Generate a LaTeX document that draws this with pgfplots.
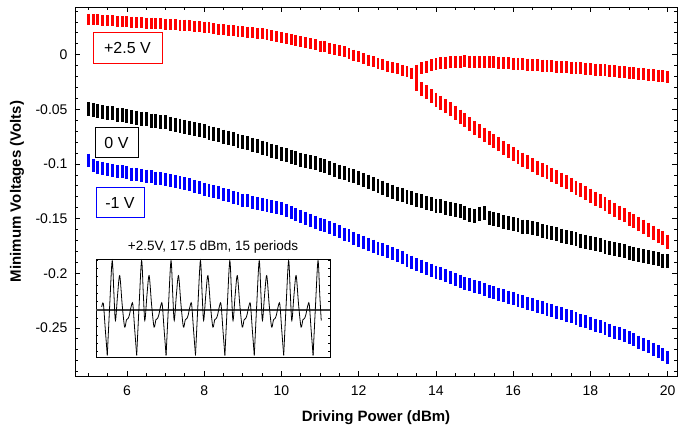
\documentclass[border=0pt]{standalone}
\usepackage{fontspec}
\setmainfont{Liberation Sans}
\usepackage{pgfplots}
\usepackage{pgfplotstable}
\pgfplotsset{compat=1.18}
\usetikzlibrary{calc}

% bar centres, one row every 0.125 dBm
\pgfplotstableread{
y
0.0325
0.0320
0.0318
0.0312
0.0310
0.0313
0.0305
0.0302
0.0300
0.0299
0.0294
0.0292
0.0290
0.0289
0.0284
0.0282
0.0280
0.0279
0.0275
0.0271
0.0270
0.0266
0.0260
0.0256
0.0250
0.0246
0.0240
0.0234
0.0230
0.0226
0.0220
0.0214
0.0210
0.0206
0.0200
0.0194
0.0190
0.0183
0.0175
0.0169
0.0160
0.0151
0.0140
0.0131
0.0120
0.0111
0.0100
0.0091
0.0080
0.0071
0.0060
0.0049
0.0040
0.0026
0.0010
-0.0004
-0.0020
-0.0034
-0.0050
-0.0066
-0.0080
-0.0091
-0.0105
-0.0119
-0.0130
-0.0141
-0.0155
-0.0168
}\redlow
\pgfplotstableread{
y
-0.0145
-0.0125
-0.0108
-0.0095
-0.0086
-0.0079
-0.0074
-0.0069
-0.0066
-0.0064
-0.0061
-0.0064
-0.0063
-0.0066
-0.0066
-0.0069
-0.0070
-0.0072
-0.0076
-0.0078
-0.0081
-0.0085
-0.0087
-0.0090
-0.0094
-0.0097
-0.0100
-0.0103
-0.0106
-0.0108
-0.0112
-0.0115
-0.0118
-0.0122
-0.0124
-0.0128
-0.0131
-0.0136
-0.0139
-0.0143
-0.0147
-0.0150
-0.0155
-0.0159
-0.0163
-0.0168
-0.0172
-0.0176
-0.0181
-0.0186
-0.0192
-0.0197
-0.0204
}\redup
\pgfplotstableread{
y
-0.0270
-0.0315
-0.0345
-0.0378
-0.0410
-0.0441
-0.0470
-0.0498
-0.0530
-0.0566
-0.0600
-0.0634
-0.0670
-0.0701
-0.0730
-0.0761
-0.0790
-0.0820
-0.0851
-0.0880
-0.0910
-0.0936
-0.0960
-0.0984
-0.1010
-0.1033
-0.1055
-0.1077
-0.1100
-0.1123
-0.1145
-0.1167
-0.1190
-0.1216
-0.1240
-0.1264
-0.1290
-0.1316
-0.1340
-0.1364
-0.1390
-0.1419
-0.1445
-0.1471
-0.1500
-0.1526
-0.1550
-0.1574
-0.1600
-0.1629
-0.1655
-0.1681
-0.1710
}\reddown
\pgfplotstableread{
y
-0.0500
-0.0505
-0.0515
-0.0525
-0.0530
-0.0535
-0.0548
-0.0552
-0.0560
-0.0572
-0.0575
-0.0585
-0.0590
-0.0602
-0.0605
-0.0615
-0.0620
-0.0632
-0.0640
-0.0648
-0.0660
-0.0668
-0.0682
-0.0688
-0.0700
-0.0712
-0.0722
-0.0738
-0.0750
-0.0758
-0.0775
-0.0785
-0.0800
-0.0808
-0.0825
-0.0835
-0.0850
-0.0862
-0.0878
-0.0892
-0.0910
-0.0918
-0.0935
-0.0945
-0.0960
-0.0968
-0.0985
-0.0995
-0.1010
-0.1022
-0.1038
-0.1055
-0.1070
-0.1082
-0.1098
-0.1112
-0.1130
-0.1145
-0.1162
-0.1185
-0.1200
-0.1215
-0.1235
-0.1252
-0.1270
-0.1282
-0.1302
-0.1315
-0.1330
-0.1342
-0.1355
-0.1368
-0.1380
-0.1388
-0.1402
-0.1408
-0.1420
-0.1432
-0.1445
-0.1465
-0.1472
-0.1455
-0.1452
-0.1490
-0.1505
-0.1515
-0.1530
-0.1540
-0.1550
-0.1558
-0.1572
-0.1580
-0.1590
-0.1598
-0.1612
-0.1620
-0.1630
-0.1642
-0.1655
-0.1668
-0.1680
-0.1688
-0.1702
-0.1710
-0.1720
-0.1732
-0.1745
-0.1758
-0.1770
-0.1778
-0.1790
-0.1800
-0.1810
-0.1822
-0.1832
-0.1842
-0.1850
-0.1862
-0.1872
-0.1885
-0.1890
}\zerov
\pgfplotstableread{
y
-0.0965
-0.1015
-0.1030
-0.1038
-0.1050
-0.1055
-0.1068
-0.1072
-0.1080
-0.1092
-0.1095
-0.1105
-0.1110
-0.1118
-0.1128
-0.1135
-0.1140
-0.1152
-0.1160
-0.1172
-0.1180
-0.1192
-0.1205
-0.1215
-0.1230
-0.1238
-0.1255
-0.1265
-0.1280
-0.1288
-0.1305
-0.1315
-0.1330
-0.1338
-0.1350
-0.1360
-0.1370
-0.1378
-0.1390
-0.1398
-0.1410
-0.1428
-0.1445
-0.1462
-0.1480
-0.1495
-0.1515
-0.1532
-0.1550
-0.1565
-0.1585
-0.1600
-0.1620
-0.1642
-0.1658
-0.1680
-0.1700
-0.1715
-0.1735
-0.1752
-0.1770
-0.1785
-0.1805
-0.1822
-0.1840
-0.1858
-0.1880
-0.1898
-0.1920
-0.1935
-0.1955
-0.1970
-0.1990
-0.2005
-0.2022
-0.2040
-0.2060
-0.2072
-0.2090
-0.2105
-0.2120
-0.2132
-0.2150
-0.2165
-0.2180
-0.2192
-0.2205
-0.2218
-0.2230
-0.2245
-0.2258
-0.2275
-0.2290
-0.2302
-0.2315
-0.2328
-0.2340
-0.2355
-0.2370
-0.2385
-0.2400
-0.2415
-0.2430
-0.2445
-0.2460
-0.2475
-0.2490
-0.2505
-0.2520
-0.2538
-0.2555
-0.2572
-0.2590
-0.2610
-0.2630
-0.2650
-0.2670
-0.2695
-0.2720
-0.2745
-0.2775
}\minusv
% one period of the inset trace (phase, signal)
\pgfplotstableread{
p v
0 -45.7
0.083 5
0.167 49.3
0.227 15
0.277 -10.7
0.35 15
0.423 34.3
0.507 5
0.59 -17.3
0.653 -10
0.71 -8.5
0.753 -5
0.81 3
0.867 6
0.933 -20
1 -45.7
}\period

\tikzset{bars/.style={only marks, mark=|, mark size=6pt,
  mark options={#1, line width=2.9pt}}}

\begin{document}
\begin{tikzpicture}
\begin{axis}[name=main,
    width=602pt, height=369pt, scale only axis,
    xmin=4.656, xmax=20.24, ymin=-0.294, ymax=0.0437,
    xtick={6,8,10,12,14,16,18,20},
    xticklabels={6,8,10,12,14,16,18,20},
    ytick={-0.25,-0.2,-0.15,-0.1,-0.05,0},
    yticklabels={-0.25,-0.2,-0.15,-0.1,-0.05,0},
    minor xtick={5,5.5,...,20},
    minor ytick={-0.29,-0.28,...,0.04},
    tick align=inside,
    major tick length=5pt, minor tick length=3pt,
    every tick/.style={black, line width=0.8pt},
    axis line style={line width=0.9pt},
    ticklabel style={font=\fontsize{14}{16}\selectfont},
    xticklabel style={yshift=-6pt},
    yticklabel style={xshift=-4pt},
    xlabel={Driving Power (dBm)},
    ylabel={Minimum Voltages (Volts)},
    label style={font=\bfseries\fontsize{15}{17}\selectfont},
    xlabel style={at={(axis description cs:0.5,-0.114)}, anchor=center},
    ylabel style={at={(axis description cs:-0.0963,0.5)}, anchor=center},
]
\addplot[bars=red, mark size=5.5pt] table[x expr=5+\coordindex*0.125, y=y] {\redlow};
\addplot[bars=red] table[x expr=13.5+\coordindex*0.125, y=y] {\redup};
\addplot[bars=red, mark size=7pt] table[x expr=13.5+\coordindex*0.125, y=y] {\reddown};
\addplot[bars=black, mark size=7pt] table[x expr=5+\coordindex*0.125, y=y] {\zerov};
\addplot[bars=blue, mark size=6.5pt] table[x expr=5+\coordindex*0.125, y=y] {\minusv};

\node[draw=red, line width=0.9pt, fill=white, minimum width=69pt, minimum height=31pt,
  inner sep=0pt, font=\fontsize{16}{18}\selectfont] at (axis cs:6.015,0.006) {+2.5 V};
\node[draw=black, line width=0.9pt, fill=white, minimum width=43pt, minimum height=30pt,
  inner sep=0pt, font=\fontsize{16}{18}\selectfont] at (axis cs:5.73,-0.0806) {0 V};
\node[draw=blue, line width=0.9pt, fill=white, minimum width=48pt, minimum height=30pt,
  inner sep=0pt, font=\fontsize{16}{18}\selectfont] at (axis cs:5.82,-0.1355) {-1 V};
\end{axis}

\begin{axis}[at={($(main.south west)+(21pt,19pt)$)}, anchor=south west,
    width=234pt, height=98pt, scale only axis,
    xmin=-0.384, xmax=7.575, ymin=-47.3, ymax=51,
    xtick=\empty,
    ytick={-41.6,-33.3,-25,-16.7,-8.3,0,8.3,16.7,25,33.3,41.6,50},
    yticklabels=\empty,
    tick align=inside, major tick length=2pt,
    every tick/.style={black, line width=0.5pt},
    axis line style={line width=0.8pt},
    axis background/.style={fill=white},
    title={+2.5V, 17.5 dBm, 15 periods},
    title style={at={(0.5,1)}, anchor=base, yshift=2pt, inner sep=0pt,
      font=\fontsize{13.5}{15}\selectfont},
]
\addplot[black!75, line width=1.4pt] coordinates {(-0.384,0) (7.575,0)};
\pgfplotsinvokeforeach{-1,...,7}{
  \addplot[black, line width=0.8pt, smooth, restrict x to domain=-0.2:7.29]
    table[x expr=\thisrow{p}+#1, y=v] {\period};
}
\end{axis}

\pgfresetboundingbox
\useasboundingbox ([xshift=-75pt,yshift=-57pt]main.south west)
  rectangle ([xshift=1pt,yshift=7pt]main.north east);
\end{tikzpicture}
\end{document}
